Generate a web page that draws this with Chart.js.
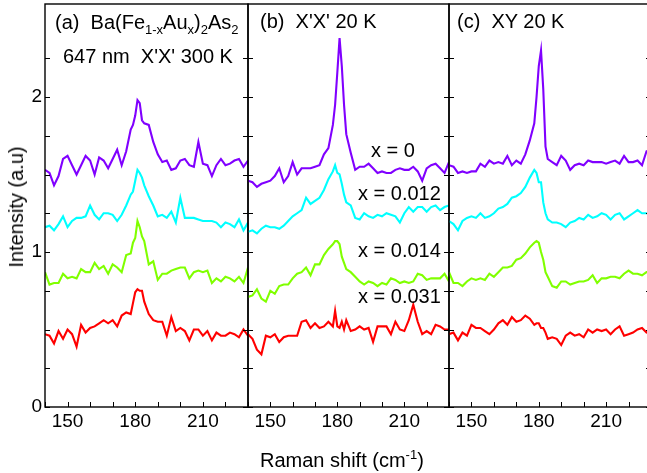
<!DOCTYPE html>
<html>
<head>
<meta charset="utf-8">
<script src="https://cdn.jsdelivr.net/npm/chart.js@4.4.0/dist/chart.umd.min.js"></script>
<style>
    html, body { margin: 0; padding: 0; background: #fff; }
    #wrap { position: relative; width: 647px; height: 473px; overflow: hidden; font-family: "Liberation Sans", Arial, sans-serif; color: #000; }
    #wrap canvas { position: absolute; left: 0; top: 0; }
    .lbl { position: absolute; font-size: 20px; line-height: 20px; white-space: nowrap; }
    .sub { font-size: 13px; vertical-align: -5px; }
    .sup { font-size: 13px; vertical-align: 8px; }
</style>
</head>
<body>
<div id="wrap">
    <canvas id="panel-a" width="660" height="473"></canvas>
    <canvas id="panel-b" width="660" height="473"></canvas>
    <canvas id="panel-c" width="660" height="473"></canvas>

    <div class="lbl" style="left:55px; top:12px;">(a)&nbsp;&nbsp;Ba(Fe<span class="sub">1-x</span>Au<span class="sub">x</span>)<span class="sub">2</span>As<span class="sub">2</span></div>
    <div class="lbl" style="left:63px; top:46px;">647 nm&nbsp;&nbsp;X'X' 300 K</div>
    <div class="lbl" style="left:260px; top:11px;">(b)&nbsp;&nbsp;X'X' 20 K</div>
    <div class="lbl" style="left:457px; top:11px;">(c)&nbsp;&nbsp;XY 20 K</div>

    <div class="lbl" style="left:371px; top:140px;">x = 0</div>
    <div class="lbl" style="left:358px; top:183px;">x = 0.012</div>
    <div class="lbl" style="left:358px; top:240px;">x = 0.014</div>
    <div class="lbl" style="left:358px; top:286px;">x = 0.031</div>

    <div class="lbl" style="left:260px; top:445px;">Raman shift (cm<span class="sup">-1</span>)</div>
    <div class="lbl" style="left:16px; top:207px; transform: translate(-50%, -50%) rotate(-90deg);">Intensity (a.u)</div>
</div>

<script>
// Raman shift grid (cm-1), finer around the 181 cm-1 phonon
const shift = [140, 142, 144, 146, 148, 150, 152, 154, 156, 158, 160, 162, 164, 166, 168, 170, 172, 174, 176, 178,
    179, 180, 181, 182, 183, 184,
    186, 188, 190, 192, 194, 196, 198, 200, 202, 204, 206, 208, 210, 212, 214, 216, 218, 220, 222, 224, 226, 228, 230];

// (a) X'X' 300 K
const a_x0 = [1.53, 1.51, 1.43, 1.49, 1.60, 1.62, 1.56, 1.50, 1.56, 1.62, 1.59, 1.50, 1.61, 1.59, 1.54, 1.60, 1.66, 1.56, 1.65, 1.79,
    1.82, 1.88, 1.98, 1.96, 1.85, 1.83,
    1.82, 1.71, 1.63, 1.58, 1.59, 1.53, 1.54, 1.59, 1.60, 1.56, 1.55, 1.71, 1.57, 1.56, 1.49, 1.56, 1.60, 1.56, 1.57, 1.59, 1.60, 1.55, 1.59];
const a_x012 = [1.16, 1.17, 1.14, 1.18, 1.23, 1.16, 1.20, 1.22, 1.22, 1.23, 1.30, 1.24, 1.21, 1.25, 1.25, 1.24, 1.20, 1.24, 1.30, 1.37,
    1.39, 1.46, 1.53, 1.51, 1.48, 1.43,
    1.36, 1.30, 1.23, 1.24, 1.22, 1.26, 1.19, 1.35, 1.22, 1.22, 1.22, 1.21, 1.20, 1.20, 1.20, 1.19, 1.16, 1.19, 1.18, 1.16, 1.21, 1.14, 1.19];
const a_x014 = [0.87, 0.79, 0.80, 0.80, 0.86, 0.83, 0.84, 0.83, 0.89, 0.87, 0.87, 0.93, 0.89, 0.91, 0.86, 0.92, 0.90, 0.87, 0.98, 0.99,
    1.06, 1.09, 1.20, 1.16, 1.10, 1.07,
    0.92, 0.94, 0.82, 0.86, 0.86, 0.88, 0.89, 0.90, 0.90, 0.83, 0.87, 0.88, 0.87, 0.88, 0.80, 0.83, 0.81, 0.84, 0.83, 0.81, 0.84, 0.80, 0.90];
const a_x031 = [0.47, 0.46, 0.41, 0.49, 0.44, 0.50, 0.47, 0.39, 0.53, 0.48, 0.51, 0.52, 0.54, 0.56, 0.54, 0.56, 0.52, 0.59, 0.61, 0.60,
    0.67, 0.74, 0.76, 0.75, 0.75, 0.68,
    0.60, 0.56, 0.55, 0.55, 0.46, 0.58, 0.49, 0.51, 0.49, 0.43, 0.50, 0.50, 0.46, 0.49, 0.43, 0.48, 0.46, 0.46, 0.48, 0.47, 0.45, 0.50, 0.46];

// (b) X'X' 20 K
const b_x0 = [1.46, 1.45, 1.42, 1.44, 1.45, 1.46, 1.49, 1.54, 1.45, 1.49, 1.58, 1.50, 1.54, 1.54, 1.54, 1.55, 1.56, 1.63, 1.67, 1.82,
    1.95, 2.16, 2.38, 2.20, 1.95, 1.76,
    1.64, 1.53, 1.55, 1.55, 1.57, 1.54, 1.51, 1.52, 1.51, 1.51, 1.53, 1.54, 1.53, 1.53, 1.55, 1.52, 1.46, 1.54, 1.56, 1.57, 1.54, 1.51, 1.58];
const b_x012 = [1.13, 1.14, 1.12, 1.15, 1.17, 1.16, 1.16, 1.15, 1.17, 1.20, 1.23, 1.25, 1.27, 1.35, 1.31, 1.33, 1.35, 1.40, 1.47, 1.52,
    1.56, 1.51, 1.50, 1.44, 1.37, 1.32,
    1.30, 1.22, 1.21, 1.25, 1.23, 1.22, 1.24, 1.23, 1.25, 1.24, 1.23, 1.19, 1.25, 1.29, 1.26, 1.29, 1.29, 1.26, 1.29, 1.30, 1.27, 1.29, 1.30];
const b_x014 = [0.71, 0.72, 0.76, 0.70, 0.68, 0.75, 0.73, 0.78, 0.79, 0.79, 0.83, 0.86, 0.87, 0.90, 0.85, 0.92, 0.92, 0.98, 1.02, 1.05,
    1.07, 1.07, 1.05, 0.97, 0.93, 0.89,
    0.87, 0.84, 0.81, 0.79, 0.81, 0.80, 0.78, 0.80, 0.79, 0.83, 0.82, 0.80, 0.81, 0.80, 0.81, 0.86, 0.85, 0.82, 0.83, 0.83, 0.83, 0.86, 0.81];
const b_x031 = [0.47, 0.44, 0.37, 0.34, 0.46, 0.45, 0.47, 0.42, 0.45, 0.46, 0.46, 0.46, 0.55, 0.56, 0.51, 0.54, 0.51, 0.52, 0.55, 0.52,
    0.62, 0.52, 0.51, 0.55, 0.50, 0.56,
    0.49, 0.50, 0.52, 0.50, 0.51, 0.42, 0.52, 0.52, 0.52, 0.47, 0.55, 0.50, 0.49, 0.56, 0.66, 0.55, 0.47, 0.49, 0.47, 0.53, 0.52, 0.50, 0.50];

// (c) XY 20 K
const c_x0 = [1.56, 1.55, 1.51, 1.52, 1.51, 1.52, 1.52, 1.57, 1.55, 1.59, 1.57, 1.58, 1.57, 1.62, 1.56, 1.59, 1.57, 1.63, 1.72, 1.83,
    2.00, 2.20, 2.30, 2.05, 1.68, 1.60,
    1.58, 1.56, 1.62, 1.59, 1.53, 1.56, 1.57, 1.56, 1.59, 1.58, 1.58, 1.58, 1.57, 1.58, 1.59, 1.57, 1.62, 1.58, 1.58, 1.59, 1.56, 1.65, 1.66];
const c_x012 = [1.20, 1.18, 1.14, 1.20, 1.22, 1.23, 1.22, 1.25, 1.22, 1.23, 1.25, 1.28, 1.29, 1.31, 1.35, 1.36, 1.38, 1.42, 1.48, 1.53,
    1.51, 1.45, 1.45, 1.32, 1.25, 1.21,
    1.19, 1.19, 1.18, 1.16, 1.19, 1.20, 1.22, 1.21, 1.24, 1.22, 1.23, 1.25, 1.24, 1.21, 1.24, 1.25, 1.21, 1.23, 1.25, 1.27, 1.25, 1.25, 1.24];
const c_x014 = [0.87, 0.80, 0.80, 0.78, 0.81, 0.83, 0.82, 0.83, 0.82, 0.86, 0.84, 0.87, 0.90, 0.90, 0.91, 0.95, 0.96, 0.99, 1.03, 1.06,
    1.07, 1.06, 1.00, 0.95, 0.87, 0.84,
    0.78, 0.77, 0.81, 0.81, 0.79, 0.80, 0.81, 0.81, 0.82, 0.85, 0.80, 0.83, 0.83, 0.84, 0.84, 0.83, 0.86, 0.88, 0.86, 0.86, 0.85, 0.87, 0.87];
const c_x031 = [0.47, 0.48, 0.43, 0.48, 0.46, 0.53, 0.51, 0.51, 0.49, 0.47, 0.50, 0.54, 0.56, 0.53, 0.58, 0.55, 0.56, 0.59, 0.57, 0.53,
    0.54, 0.54, 0.51, 0.51, 0.48, 0.44,
    0.45, 0.44, 0.40, 0.46, 0.48, 0.46, 0.47, 0.45, 0.50, 0.48, 0.50, 0.49, 0.50, 0.47, 0.50, 0.52, 0.46, 0.47, 0.48, 0.50, 0.51, 0.48, 0.49];

const seriesNames = ['x = 0', 'x = 0.012', 'x = 0.014', 'x = 0.031'];
const seriesColors = ['#8000ff', '#00ffff', '#80ff00', '#ff0000'];
const xLabels = [150, 180, 210];
const yLabels = [0, 1, 2];

// frame round the plot area and inward ticks, both from the chart's own scales
const frameTicks = {
    id: 'frameTicks',
    afterDraw(chart) {
        const { ctx, chartArea: a, scales } = chart;
        ctx.save();
        ctx.strokeStyle = '#000';
        ctx.lineWidth = 1.4;
        ctx.strokeRect(a.left, a.top, a.right - a.left, a.bottom - a.top);
        ctx.lineWidth = 1;
        ctx.beginPath();
        scales.y.ticks.forEach(t => {
            if (t.value > 2.5 + 1e-6) return;
            const py = Math.round(scales.y.getPixelForValue(t.value)) + 0.5;
            ctx.moveTo(a.left, py); ctx.lineTo(a.left + 5, py);
            ctx.moveTo(a.right - 5, py); ctx.lineTo(a.right, py);
        });
        scales.x.ticks.forEach(t => {
            const px = Math.round(scales.x.getPixelForValue(t.value)) + 0.5;
            ctx.moveTo(px, a.bottom); ctx.lineTo(px, a.bottom - 5);
        });
        ctx.stroke();
        ctx.restore();
    }
};

function makePanel(id, series, padLeft, padRight, axisWidth) {
    const ctx = document.getElementById(id).getContext('2d');
    return new Chart(ctx, {
        type: 'line',
        data: {
            datasets: series.map((values, i) => ({
                label: seriesNames[i],
                data: shift.map((x, k) => ({ x: x, y: values[k] })),
                borderColor: seriesColors[i],
                borderWidth: 2.1,
                pointRadius: 0,
                tension: 0,
                fill: false
            }))
        },
        options: {
            responsive: false,
            animation: false,
            devicePixelRatio: 1,
            layout: { autoPadding: false, padding: { left: padLeft, right: padRight, top: 4, bottom: 0 } },
            plugins: { legend: { display: false }, tooltip: { enabled: false } },
            scales: {
                x: {
                    type: 'linear',
                    min: 140,
                    max: 230,
                    grid: { display: false, drawTicks: false },
                    border: { display: false },
                    ticks: {
                        stepSize: 10,
                        autoSkip: false,
                        maxRotation: 0,
                        padding: 3,
                        color: '#000',
                        font: { family: '"Liberation Sans", Arial, sans-serif', size: 19 },
                        callback: v => xLabels.includes(v) ? String(v) : ''
                    },
                    afterFit: s => { s.height = 66; s.paddingLeft = 0; s.paddingRight = 0; }
                },
                y: {
                    min: 0,
                    max: 2.6,
                    grid: { display: false, drawTicks: false },
                    border: { display: false },
                    ticks: {
                        stepSize: 0.25,
                        padding: 3,
                        color: '#000',
                        font: { family: '"Liberation Sans", Arial, sans-serif', size: 19 },
                        callback: v => (axisWidth > 0 && yLabels.includes(v)) ? String(v) : ''
                    },
                    afterFit: s => { s.width = axisWidth; s.paddingTop = 0; s.paddingBottom = 0; }
                }
            }
        },
        plugins: [frameTicks]
    });
}

makePanel('panel-a', [a_x0, a_x012, a_x014, a_x031], 0, 660 - 248, 45);
makePanel('panel-b', [b_x0, b_x012, b_x014, b_x031], 248, 660 - 449, 0);
makePanel('panel-c', [c_x0, c_x012, c_x014, c_x031], 449, 660 - 651, 0);
</script>
</body>
</html>
